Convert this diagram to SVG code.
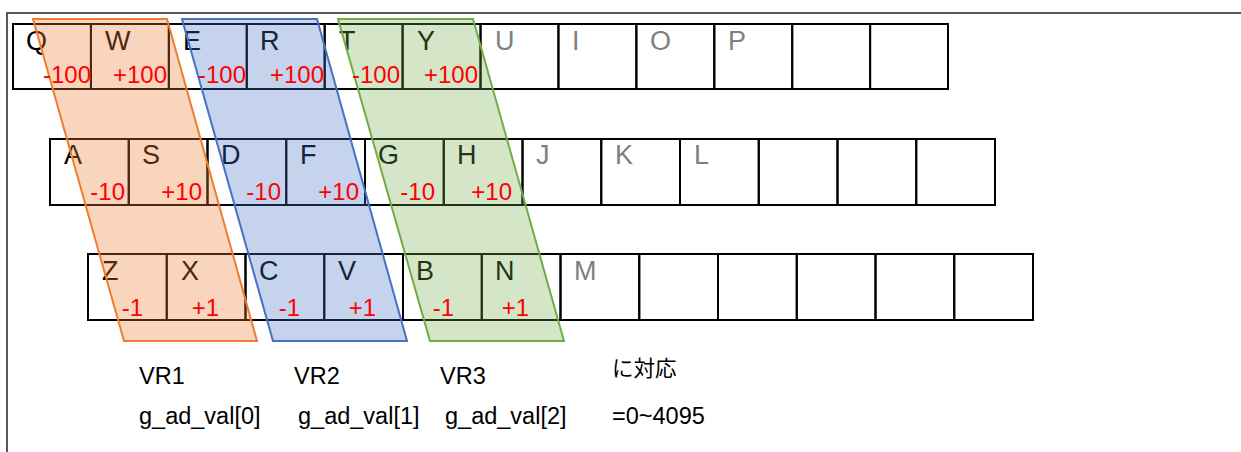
<svg xmlns="http://www.w3.org/2000/svg" width="1241" height="452" viewBox="0 0 1241 452">
  <style>
    .cell { fill: none; stroke: #000; stroke-width: 2; }
    .key { font-family: "Liberation Sans", Arial, sans-serif; font-size: 27px; fill: #000; }
    .key.dim { fill: #808080; }
    .val { font-family: "Liberation Sans", Arial, sans-serif; font-size: 24px; fill: #ff0000; text-anchor: end; }
    .note { font-family: "Liberation Sans", Arial, "Noto Sans CJK JP", sans-serif; font-size: 23.5px; fill: #000; }
    .note.jp { font-size: 21.5px; }
    .band { stroke-width: 2; stroke-linejoin: miter; }
  </style>

  <!-- page frame -->
  <g id="frame">
    <path d="M7 452 V13 H1241" fill="none" stroke="#595959" stroke-width="2"/>
  </g>

  <!-- top row: Q..P -->
  <g id="row1">
    <g id="key-Q"><rect class="cell" x="13" y="24" width="77.92" height="65"/><text class="key" x="26" y="50">Q</text></g>
    <g id="key-W"><rect class="cell" x="90.92" y="24" width="77.92" height="65"/><text class="key" x="105" y="50">W</text></g>
    <g id="key-E"><rect class="cell" x="168.84" y="24" width="77.92" height="65"/><text class="key" x="183" y="50">E</text></g>
    <g id="key-R"><rect class="cell" x="246.76" y="24" width="77.92" height="65"/><text class="key" x="260" y="50">R</text></g>
    <g id="key-T"><rect class="cell" x="324.68" y="24" width="77.92" height="65"/><text class="key" x="339" y="50">T</text></g>
    <g id="key-Y"><rect class="cell" x="402.6" y="24" width="77.92" height="65"/><text class="key" x="417" y="50">Y</text></g>
    <g id="key-U"><rect class="cell" x="480.52" y="24" width="77.92" height="65"/><text class="key dim" x="495" y="50">U</text></g>
    <g id="key-I"><rect class="cell" x="558.44" y="24" width="77.92" height="65"/><text class="key dim" x="572" y="50">I</text></g>
    <g id="key-O"><rect class="cell" x="636.36" y="24" width="77.92" height="65"/><text class="key dim" x="650" y="50">O</text></g>
    <g id="key-P"><rect class="cell" x="714.28" y="24" width="77.92" height="65"/><text class="key dim" x="728" y="50">P</text></g>
    <g id="key-r1-11"><rect class="cell" x="792.2" y="24" width="77.92" height="65"/></g>
    <g id="key-r1-12"><rect class="cell" x="870.12" y="24" width="77.88" height="65"/></g>
  </g>

  <!-- middle row: A..L -->
  <g id="row2">
    <g id="key-A"><rect class="cell" x="50" y="139" width="78.75" height="66"/><text class="key" x="64" y="164">A</text></g>
    <g id="key-S"><rect class="cell" x="128.75" y="139" width="78.75" height="66"/><text class="key" x="142" y="164">S</text></g>
    <g id="key-D"><rect class="cell" x="207.5" y="139" width="78.75" height="66"/><text class="key" x="221" y="164">D</text></g>
    <g id="key-F"><rect class="cell" x="286.25" y="139" width="78.75" height="66"/><text class="key" x="300" y="164">F</text></g>
    <g id="key-G"><rect class="cell" x="365" y="139" width="78.75" height="66"/><text class="key" x="378" y="164">G</text></g>
    <g id="key-H"><rect class="cell" x="443.75" y="139" width="78.75" height="66"/><text class="key" x="457" y="164">H</text></g>
    <g id="key-J"><rect class="cell" x="522.5" y="139" width="78.75" height="66"/><text class="key dim" x="536" y="164">J</text></g>
    <g id="key-K"><rect class="cell" x="601.25" y="139" width="78.75" height="66"/><text class="key dim" x="615" y="164">K</text></g>
    <g id="key-L"><rect class="cell" x="680" y="139" width="78.75" height="66"/><text class="key dim" x="694" y="164">L</text></g>
    <g id="key-r2-10"><rect class="cell" x="758.75" y="139" width="78.75" height="66"/></g>
    <g id="key-r2-11"><rect class="cell" x="837.5" y="139" width="78.75" height="66"/></g>
    <g id="key-r2-12"><rect class="cell" x="916.25" y="139" width="78.75" height="66"/></g>
  </g>

  <!-- bottom row: Z..M -->
  <g id="row3">
    <g id="key-Z"><rect class="cell" x="88" y="254" width="78.75" height="66"/><text class="key" x="102" y="280">Z</text></g>
    <g id="key-X"><rect class="cell" x="166.75" y="254" width="78.75" height="66"/><text class="key" x="181" y="280">X</text></g>
    <g id="key-C"><rect class="cell" x="245.5" y="254" width="78.75" height="66"/><text class="key" x="259" y="280">C</text></g>
    <g id="key-V"><rect class="cell" x="324.25" y="254" width="78.75" height="66"/><text class="key" x="338" y="280">V</text></g>
    <g id="key-B"><rect class="cell" x="403" y="254" width="78.75" height="66"/><text class="key" x="416" y="280">B</text></g>
    <g id="key-N"><rect class="cell" x="481.75" y="254" width="78.75" height="66"/><text class="key" x="495" y="280">N</text></g>
    <g id="key-M"><rect class="cell" x="560.5" y="254" width="78.75" height="66"/><text class="key dim" x="574" y="280">M</text></g>
    <g id="key-r3-8"><rect class="cell" x="639.25" y="254" width="78.75" height="66"/></g>
    <g id="key-r3-9"><rect class="cell" x="718" y="254" width="78.75" height="66"/></g>
    <g id="key-r3-10"><rect class="cell" x="796.75" y="254" width="78.75" height="66"/></g>
    <g id="key-r3-11"><rect class="cell" x="875.5" y="254" width="78.75" height="66"/></g>
    <g id="key-r3-12"><rect class="cell" x="954.25" y="254" width="78.75" height="66"/></g>
  </g>

  <!-- slanted key groups, one per variable resistor -->
  <g id="vr1-band">
    <polygon class="band" points="33,19 167,19 257,341 124,341" fill="rgb(237,125,49)" fill-opacity="0.32" stroke="#ED7D31"/>
  </g>
  <g id="vr2-band">
    <polygon class="band" points="182,19 317,19 407,341 273,341" fill="rgb(68,114,196)" fill-opacity="0.31" stroke="#4472C4"/>
  </g>
  <g id="vr3-band">
    <polygon class="band" points="338,19 473,19 564,341 430,341" fill="rgb(112,173,71)" fill-opacity="0.3" stroke="#70AD47"/>
  </g>

  <!-- step values printed on top of the bands -->
  <g id="values">
    <g id="val-Q"><text class="val" x="91" y="83">-100</text></g>
    <g id="val-W"><text class="val" x="167" y="83">+100</text></g>
    <g id="val-E"><text class="val" x="246" y="83">-100</text></g>
    <g id="val-R"><text class="val" x="324" y="83">+100</text></g>
    <g id="val-T"><text class="val" x="400" y="83">-100</text></g>
    <g id="val-Y"><text class="val" x="478" y="83">+100</text></g>
    <g id="val-A"><text class="val" x="125" y="200">-10</text></g>
    <g id="val-S"><text class="val" x="202" y="200">+10</text></g>
    <g id="val-D"><text class="val" x="281" y="200">-10</text></g>
    <g id="val-F"><text class="val" x="359" y="200">+10</text></g>
    <g id="val-G"><text class="val" x="435" y="200">-10</text></g>
    <g id="val-H"><text class="val" x="512" y="200">+10</text></g>
    <g id="val-Z"><text class="val" x="143" y="316">-1</text></g>
    <g id="val-X"><text class="val" x="219" y="316">+1</text></g>
    <g id="val-C"><text class="val" x="300" y="316">-1</text></g>
    <g id="val-V"><text class="val" x="376" y="316">+1</text></g>
    <g id="val-B"><text class="val" x="454" y="316">-1</text></g>
    <g id="val-N"><text class="val" x="529" y="316">+1</text></g>
  </g>

  <!-- captions -->
  <g id="captions">
    <text class="note" x="139" y="384">VR1</text>
    <text class="note" x="294" y="384">VR2</text>
    <text class="note" x="440" y="384">VR3</text>
    <text class="note jp" x="612" y="376">に対応</text>
    <text class="note" x="139" y="424">g_ad_val[0]</text>
    <text class="note" x="298" y="424">g_ad_val[1]</text>
    <text class="note" x="445" y="424">g_ad_val[2]</text>
    <text class="note" x="612" y="424">=0~4095</text>
  </g>
</svg>
